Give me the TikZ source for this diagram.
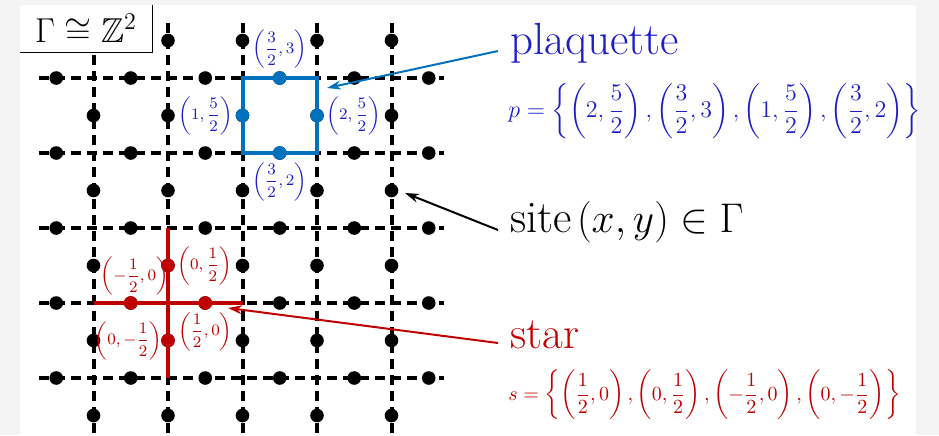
\documentclass[tikz,border=0pt]{standalone}
\usepackage{amsmath,amssymb}
\usetikzlibrary{arrows.meta,calc}
\definecolor{lineblue}{RGB}{0,114,189}
\definecolor{textblue}{RGB}{30,30,200}
\definecolor{starred}{RGB}{192,0,0}
\definecolor{bggray}{RGB}{244,244,244}
\begin{document}
\begin{tikzpicture}[x=0.5pt,y=-0.5pt,
  lat/.style={line width=2pt, dash pattern=on 5pt off 3pt},
  site/.style={circle, fill=black, inner sep=0pt, minimum size=6.8pt},
  bsite/.style={site, fill=lineblue},
  rsite/.style={site, fill=starred},
  blab/.style={text=textblue, font=\footnotesize, inner sep=1pt},
  rlab/.style={text=starred, font=\footnotesize, inner sep=1pt},
  big/.style={font=\fontsize{22.5}{27}\selectfont, inner sep=0pt, anchor=base west},
  form/.style={anchor=west, inner sep=0pt, font=\fontsize{11.5}{14}\selectfont},
  sform/.style={form, font=\fontsize{10.4}{13}\selectfont},
  ptr/.style={-{Stealth[length=7pt,width=4.5pt]}, line width=1pt},
]
\fill[bggray] (0,0) rectangle (939,435);
\fill[white] (20,5) rectangle (916,435);
\useasboundingbox (0,0) rectangle (939,435);
\begin{scope}
\clip (20,5) rectangle (916,435);
\begin{scope}[shift={(84pt,-151.5pt)}, x=37.25pt, y=37.5pt]
  % lattice lines
  \foreach \i in {-1,...,3} \draw[lat] (\i,3.73) -- (\i,-2);
  \foreach \j in {-1,...,3} \draw[lat] (-1.73,\j) -- (3.7,\j);
  % sites on horizontal lines
  \foreach \a in {0,...,5} \foreach \j in {-1,...,3}
    \node[site] (h-\a-\j) at ({\a-1.5},\j) {};
  % sites on vertical lines
  \foreach \i in {-1,...,3} \foreach \b in {0,...,5}
    \node[site] (v-\i-\b) at (\i,{\b-1.5}) {};
  % plaquette
  \draw[lineblue, line width=2pt] (1,2) rectangle (2,3);
  \node[bsite] (pt) at (1.5,3) {};
  \node[bsite] (pl) at (1,2.5) {};
  \node[bsite] (pr) at (2,2.5) {};
  \node[bsite] (pb) at (1.5,2) {};
  \node[blab, anchor=south] (lpt) at (pt.north) {$\left(\dfrac{3}{2},3\right)$};
  \node[blab, anchor=east] (lpl) at (pl.west) {$\left(1,\dfrac{5}{2}\right)$};
  \node[blab, anchor=west] (lpr) at (pr.east) {$\left(2,\dfrac{5}{2}\right)$};
  \node[blab, anchor=north] (lpb) at (pb.south) {$\left(\dfrac{3}{2},2\right)$};
  % star
  \draw[starred, line width=2pt] (-1,0) -- (1,0) (0,1) -- (0,-1);
  \node[rsite] (sr) at (0.5,0) {};
  \node[rsite] (sl) at (-0.5,0) {};
  \node[rsite] (su) at (0,0.5) {};
  \node[rsite] (sd) at (0,-0.5) {};
  \node[rlab, anchor=south] (lsl) at ([xshift=2pt,yshift=-1pt]sl.north) {$\left(-\dfrac{1}{2},0\right)$};
  \node[rlab, anchor=north] (lsr) at (sr.south) {$\left(\dfrac{1}{2},0\right)$};
  \node[rlab, anchor=west] (lsu) at (su.east) {$\left(0,\dfrac{1}{2}\right)$};
  \node[rlab, anchor=east] (lsd) at ([xshift=2pt]sd.west) {$\left(0,-\dfrac{1}{2}\right)$};
\end{scope}
\end{scope}
% title
\node[fill=white, minimum width=66pt, minimum height=23.5pt, inner sep=0pt, font=\LARGE] (title) at (86,28.5) {$\Gamma\cong\mathbb{Z}^2$};
\draw[line width=0.8pt] (title.north east) -- (title.south east) -- (title.south west);
% right-hand texts
\node[big, text=textblue] (plaq) at (510,54) {plaquette};
\node[form, text=textblue] (pform) at (508,111) {$p=\left\{\left(2,\dfrac{5}{2}\right),\left(\dfrac{3}{2},3\right),\left(1,\dfrac{5}{2}\right),\left(\dfrac{3}{2},2\right)\right\}$};
\node[big] (site) at (510,232) {site\hspace{2.5pt}{\fontsize{19.5}{24}\selectfont$(x,y)\in\Gamma$}};
\node[big, text=starred] (star) at (510,348) {star};
\node[sform, text=starred] (sform) at (508,395) {$s=\left\{\left(\dfrac{1}{2},0\right),\left(0,\dfrac{1}{2}\right),\left(-\dfrac{1}{2},0\right),\left(0,-\dfrac{1}{2}\right)\right\}$};
% arrows
\coordinate (ptip) at (327,88);
\coordinate (stip) at (405,193);
\coordinate (rtip) at (228,308);
\draw[ptr, lineblue] ($(plaq.base west)+(-12,-3)$) -- (ptip);
\draw[ptr, black] ($(site.base west)+(-12,-2)$) -- (stip);
\draw[ptr, starred] ($(star.base west)+(-12,-5)$) -- (rtip);
\end{tikzpicture}
\end{document}
